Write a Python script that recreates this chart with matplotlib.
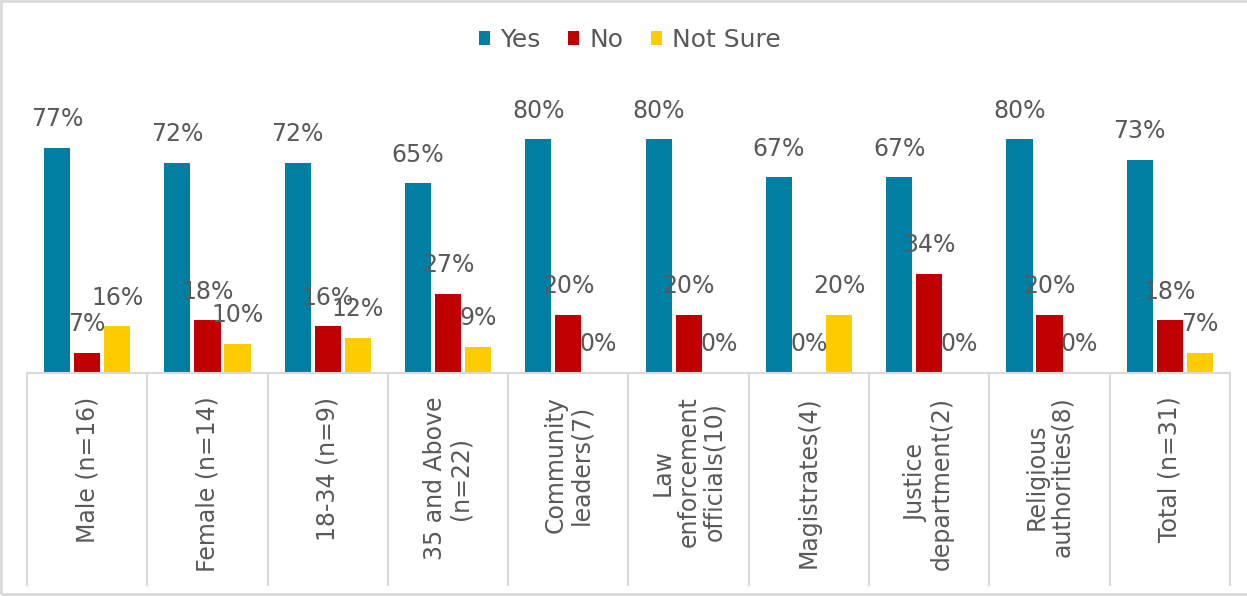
import matplotlib.pyplot as plt
import numpy as np
from matplotlib.patches import Rectangle

categories = ["Male (n=16)", "Female (n=14)", "18-34 (n=9)", "35 and Above\n(n=22)",
              "Community\nleaders(7)", "Law\nenforcement\nofficials(10)", "Magistrates(4)",
              "Justice\ndepartment(2)", "Religious\nauthorities(8)", "Total (n=31)"]
yes = [77, 72, 72, 65, 80, 80, 67, 67, 80, 73]
no = [7, 18, 16, 27, 20, 20, 0, 34, 20, 18]
not_sure = [16, 10, 12, 9, 0, 0, 20, 0, 0, 7]
series = [("Yes", yes, "#007FA3"), ("No", no, "#C00000"), ("Not Sure", not_sure, "#FFCC00")]

txt = "#595959"
grid = "#D9D9D9"
W, H = 1247, 596

fig = plt.figure(figsize=(W / 100, H / 100), dpi=100)
ax = fig.add_axes([27 / W, (H - 373) / H, (1230 - 27) / W, (373 - 81) / H])

x = np.arange(len(categories))
offsets = [-0.25, 0, 0.25]
handles = []
for (name, vals, col), off in zip(series, offsets):
    b = ax.bar(x + off, vals, width=0.217, color=col, label=name)
    handles.append(b)
    for xi, v in zip(x, vals):
        ax.annotate(f"{v}%", (xi + off, v), xytext=(0, 12), textcoords="offset points",
                    ha="center", va="bottom", fontsize=17, color=txt)

ax.set_xlim(-0.5, len(categories) - 0.5)
ax.set_ylim(0, 100)
ax.set_yticks([])
ax.set_xticks([])
for s in ["top", "left", "right"]:
    ax.spines[s].set_visible(False)
ax.spines["bottom"].set_color(grid)
ax.spines["bottom"].set_linewidth(1.5)

# category separators and labels
tr = ax.get_xaxis_transform()
depth = (585 - 373) / (373 - 81)
for k in range(len(categories) + 1):
    ax.plot([k - 0.5, k - 0.5], [0, -depth], transform=tr, color=grid, lw=1.5, clip_on=False)
for xi, lab in zip(x, categories):
    ax.annotate(lab, (xi, 0), xycoords=tr, xytext=(0, -17), textcoords="offset points",
                rotation=90, ha="center", va="top", multialignment="center",
                fontsize=17, color=txt, linespacing=1.1)

fig.legend(handles=handles, labels=[s[0] for s in series], loc="center",
           bbox_to_anchor=(0.505, 1 - 40 / H), ncol=3, frameon=False, fontsize=18,
           labelcolor=txt, handlelength=0.45, handleheight=0.45, handletextpad=0.4,
           columnspacing=1.1)

fig.patches.append(Rectangle((1 / W, 2 / H), 1.1, 1 - 3 / H, transform=fig.transFigure,
                             fill=False, edgecolor=grid, lw=2))

fig.savefig("out.png", dpi=100)
